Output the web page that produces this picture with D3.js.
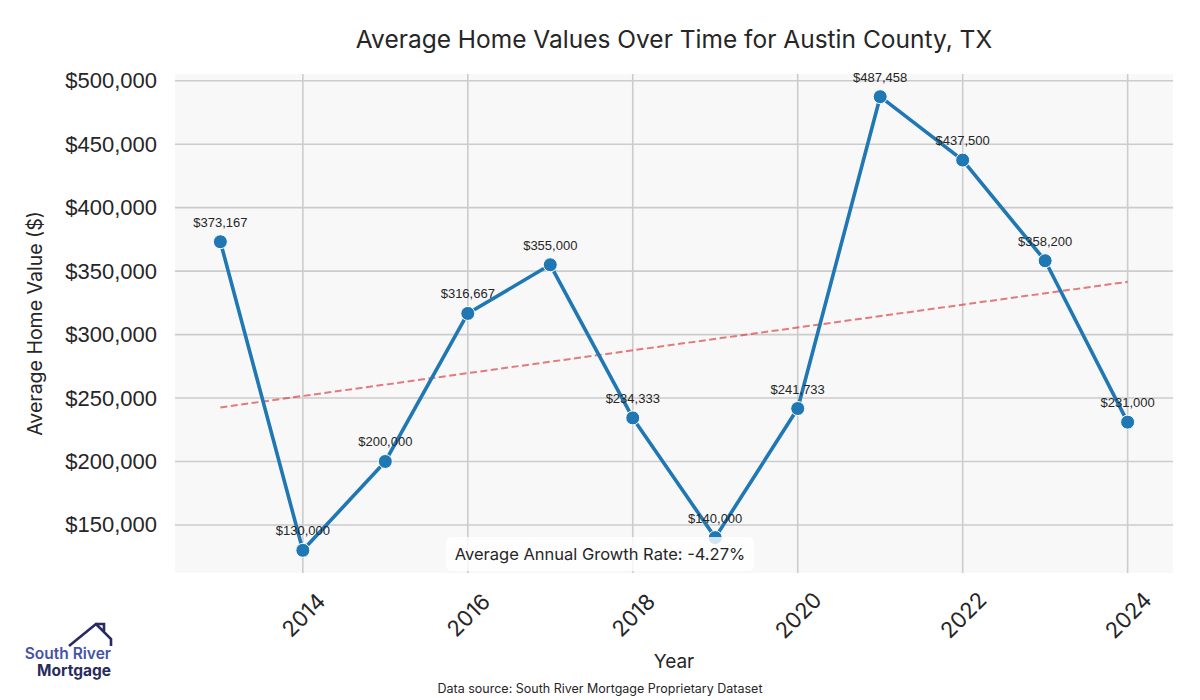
<!DOCTYPE html>
<html>
<head>
<meta charset="utf-8">
<script src="https://cdn.jsdelivr.net/npm/d3@7"></script>
<style>
  body { margin: 0; background: #fff; }
  svg { display: block; }
</style>
</head>
<body>
<svg id="chart" width="1200" height="700"></svg>
<script>
const years = [2013, 2014, 2015, 2016, 2017, 2018, 2019, 2020, 2021, 2022, 2023, 2024];
const values = [373167, 130000, 200000, 316667, 355000, 234333, 140000, 241733, 487458, 437500, 358200, 231000];
const xTicks = [2014, 2016, 2018, 2020, 2022, 2024];
const yTicks = [150000, 200000, 250000, 300000, 350000, 400000, 450000, 500000];
const growthRate = -4.27;

const width = 1200;
const height = 700;
const margin = {top: 74, right: 27, bottom: 127, left: 175};
const sans = "Inter, 'Noto Sans', sans-serif";
const arial = "'Liberation Sans', Arial, sans-serif";

const svg = d3.select('#chart');

// matplotlib-style 5% padding
const xPad = (d3.max(years) - d3.min(years)) * 0.05;
const yPad = (d3.max(values) - d3.min(values)) * 0.05;

const x = d3.scaleLinear()
  .domain([d3.min(years) - xPad, d3.max(years) + xPad])
  .range([margin.left, width - margin.right]);

const y = d3.scaleLinear()
  .domain([d3.min(values) - yPad, d3.max(values) + yPad])
  .range([height - margin.bottom, margin.top]);

// plot background
svg.append('rect')
  .attr('x', margin.left)
  .attr('y', margin.top)
  .attr('width', width - margin.left - margin.right)
  .attr('height', height - margin.top - margin.bottom)
  .attr('fill', '#f8f8f8');

// gridlines
svg.append('g')
  .selectAll('line')
  .data(yTicks)
  .join('line')
  .attr('x1', margin.left)
  .attr('x2', width - margin.right)
  .attr('y1', d => y(d))
  .attr('y2', d => y(d))
  .attr('stroke', '#cccccc')
  .attr('stroke-width', 1.6);

svg.append('g')
  .selectAll('line')
  .data(xTicks)
  .join('line')
  .attr('x1', d => x(d))
  .attr('x2', d => x(d))
  .attr('y1', margin.top)
  .attr('y2', height - margin.bottom)
  .attr('stroke', '#cccccc')
  .attr('stroke-width', 1.6);

// y axis
const yAxis = svg.append('g')
  .attr('transform', `translate(${margin.left},0)`)
  .call(d3.axisLeft(y).tickValues(yTicks).tickSize(0).tickPadding(18)
    .tickFormat(d => '$' + d3.format(',')(d)));
yAxis.select('.domain').remove();
yAxis.selectAll('text')
  .attr('font-family', arial)
  .attr('font-size', 22)
  .attr('fill', '#262626');

// x axis
const xAxis = svg.append('g')
  .attr('transform', `translate(0,${height - margin.bottom})`)
  .call(d3.axisBottom(x).tickValues(xTicks).tickSize(0).tickFormat(d3.format('d')));
xAxis.select('.domain').remove();
xAxis.selectAll('text')
  .attr('font-family', sans)
  .attr('font-size', 22)
  .attr('fill', '#262626')
  .attr('text-anchor', 'middle')
  .attr('dy', null)
  .attr('dominant-baseline', 'central')
  .attr('y', 42)
  .attr('transform', 'rotate(-45 0 42)');

// trend line (least squares fit)
const xm = d3.mean(years);
const ym = d3.mean(values);
const slope = d3.sum(years, (d, i) => (d - xm) * (values[i] - ym)) / d3.sum(years, d => (d - xm) ** 2);
const fit = d => ym + slope * (d - xm);
const x0 = d3.min(years), x1 = d3.max(years);

svg.append('line')
  .attr('x1', x(x0))
  .attr('y1', y(fit(x0)))
  .attr('x2', x(x1))
  .attr('y2', y(fit(x1)))
  .attr('stroke', '#d62728')
  .attr('stroke-opacity', 0.6)
  .attr('stroke-width', 2)
  .attr('stroke-dasharray', '7,3.5');

// main line
const line = d3.line()
  .x((d, i) => x(years[i]))
  .y(d => y(d));

svg.append('path')
  .datum(values)
  .attr('fill', 'none')
  .attr('stroke', '#1f77b4')
  .attr('stroke-width', 3.6)
  .attr('stroke-linejoin', 'round')
  .attr('d', line);

svg.append('g')
  .selectAll('circle')
  .data(values)
  .join('circle')
  .attr('cx', (d, i) => x(years[i]))
  .attr('cy', d => y(d))
  .attr('r', 7)
  .attr('fill', '#1f77b4')
  .attr('stroke', '#fff')
  .attr('stroke-width', 1);

// data labels
svg.append('g')
  .selectAll('text')
  .data(values)
  .join('text')
  .attr('x', (d, i) => x(years[i]))
  .attr('y', d => y(d) - 15)
  .attr('text-anchor', 'middle')
  .attr('font-family', arial)
  .attr('font-size', 13)
  .attr('fill', '#262626')
  .text(d => '$' + d3.format(',')(d));

// growth rate box
const gx = (margin.left + width - margin.right) / 2 - 74;
const gy = height - margin.bottom - 19;
const gText = svg.append('text')
  .attr('x', gx)
  .attr('y', gy)
  .attr('text-anchor', 'middle')
  .attr('dominant-baseline', 'central')
  .attr('font-family', sans)
  .attr('font-size', 16.5)
  .attr('fill', '#262626')
  .text(`Average Annual Growth Rate: ${growthRate.toFixed(2)}%`);
const bb = gText.node().getBBox();
svg.insert('rect', () => gText.node())
  .attr('x', bb.x - 9)
  .attr('y', bb.y - 7)
  .attr('width', bb.width + 18)
  .attr('height', bb.height + 14)
  .attr('rx', 6)
  .attr('fill', '#fff')
  .attr('fill-opacity', 0.8);

// title and labels
svg.append('text')
  .attr('x', (margin.left + width - margin.right) / 2)
  .attr('y', 48)
  .attr('text-anchor', 'middle')
  .attr('font-family', sans)
  .attr('font-size', 24.5)
  .attr('fill', '#262626')
  .text('Average Home Values Over Time for Austin County, TX');

svg.append('text')
  .attr('transform', `translate(42,${(margin.top + height - margin.bottom) / 2}) rotate(-90)`)
  .attr('text-anchor', 'middle')
  .attr('font-family', sans)
  .attr('font-size', 19.5)
  .attr('fill', '#262626')
  .text('Average Home Value ($)');

svg.append('text')
  .attr('x', (margin.left + width - margin.right) / 2)
  .attr('y', 668)
  .attr('text-anchor', 'middle')
  .attr('font-family', sans)
  .attr('font-size', 19)
  .attr('fill', '#262626')
  .text('Year');

svg.append('text')
  .attr('x', 600)
  .attr('y', 693)
  .attr('text-anchor', 'middle')
  .attr('font-family', sans)
  .attr('font-size', 12.5)
  .attr('fill', '#262626')
  .text('Data source: South River Mortgage Proprietary Dataset');

// logo
const logo = svg.append('g');
logo.append('path')
  .attr('d', 'M69,646 L96,624 L111,639 L111,646 M104,632 L104,624 L99,624 M96,624 L99,624')
  .attr('fill', 'none')
  .attr('stroke', '#272b60')
  .attr('stroke-width', 2.6)
  .attr('stroke-linejoin', 'miter');
logo.append('text')
  .attr('x', 111)
  .attr('y', 659)
  .attr('text-anchor', 'end')
  .attr('font-family', sans)
  .attr('font-size', 15.5)
  .attr('font-weight', 600)
  .attr('fill', '#4453a8')
  .text('South River');
logo.append('text')
  .attr('x', 111)
  .attr('y', 676)
  .attr('text-anchor', 'end')
  .attr('font-family', sans)
  .attr('font-size', 15.5)
  .attr('font-weight', 700)
  .attr('fill', '#272b60')
  .text('Mortgage');
</script>
</body>
</html>
